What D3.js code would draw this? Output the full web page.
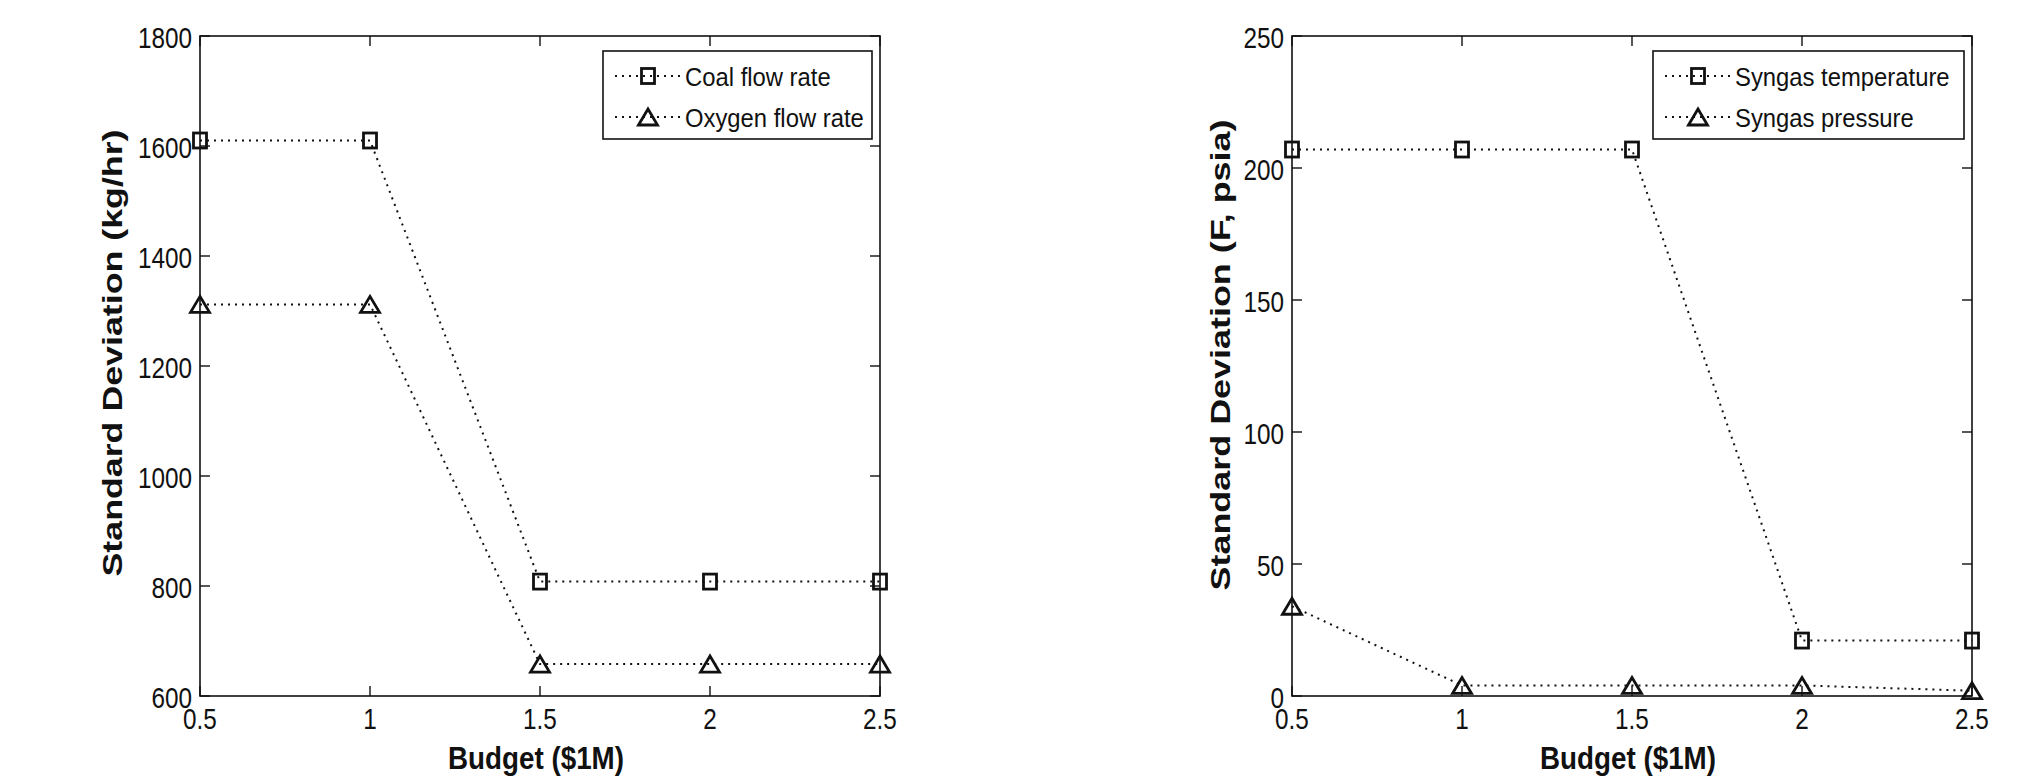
<!DOCTYPE html>
<meta charset="utf-8">
<script src="https://d3js.org/d3.v7.min.js"></script>
<style>
    body { margin: 0; background: #fff; }
    svg text { font-family: "Liberation Sans", Arial, sans-serif; fill: #111; }
</style>
<div id="chart"></div>
<script>
    // data
    var budget = [0.5, 1, 1.5, 2, 2.5];
    var coalFlow = [1610, 1610, 808, 808, 808];
    var oxygenFlow = [1312, 1312, 658, 658, 658];
    var syngasTemp = [207, 207, 207, 21, 21];
    var syngasPressure = [34, 4, 4, 4, 2];
    var xTicks = [0.5, 1, 1.5, 2, 2.5];
    var leftYTicks = [600, 800, 1000, 1200, 1400, 1600, 1800];
    var rightYTicks = [0, 50, 100, 150, 200, 250];

    var svg = d3.select("#chart").append("svg")
        .attr("width", 2033)
        .attr("height", 783);

    // the original figure is squeezed sideways, so horizontal text is narrowed
    function addText(g, x, y, str, size, anchor, sx) {
        return g.append("text")
            .attr("transform", "translate(" + x + "," + y + ") scale(" + sx + ",1)")
            .attr("text-anchor", anchor)
            .attr("font-size", size)
            .text(str);
    }

    function drawMarker(g, type, cx, cy) {
        if (type === "square") {
            var w = 13, h = 15;
            g.append("rect").attr("x", cx - w / 2).attr("y", cy - h / 2)
                .attr("width", w).attr("height", h)
                .attr("fill", "none").attr("stroke", "#111").attr("stroke-width", 2.8);
        } else {
            var tw = 19, th = 16;
            g.append("path")
                .attr("d", "M" + (cx - tw / 2) + "," + (cy + th / 2) + "L" + cx + "," + (cy - th / 2) + "L" + (cx + tw / 2) + "," + (cy + th / 2) + "Z")
                .attr("fill", "none").attr("stroke", "#111").attr("stroke-width", 2.8);
        }
    }

    function drawPanel(opt) {
        var x = d3.scaleLinear().domain([0.5, 2.5]).range([opt.left, opt.left + 680]);
        var y = d3.scaleLinear().domain(opt.yDomain).range([696, 36]);
        var g = svg.append("g");

        // box
        g.append("rect")
            .attr("x", x(0.5)).attr("y", y(opt.yDomain[1]))
            .attr("width", x(2.5) - x(0.5)).attr("height", y(opt.yDomain[0]) - y(opt.yDomain[1]))
            .attr("fill", "none").attr("stroke", "#111").attr("stroke-width", 1.6);

        // inward ticks on all four sides
        var tl = 10;
        xTicks.forEach(function (t) {
            g.append("line").attr("x1", x(t)).attr("x2", x(t)).attr("y1", y.range()[0]).attr("y2", y.range()[0] - tl)
                .attr("stroke", "#111").attr("stroke-width", 1.4);
            g.append("line").attr("x1", x(t)).attr("x2", x(t)).attr("y1", y.range()[1]).attr("y2", y.range()[1] + tl)
                .attr("stroke", "#111").attr("stroke-width", 1.4);
            addText(g, x(t), 729, t, 30, "middle", 0.81);
        });
        opt.yTicks.forEach(function (t) {
            g.append("line").attr("x1", x.range()[0]).attr("x2", x.range()[0] + tl).attr("y1", y(t)).attr("y2", y(t))
                .attr("stroke", "#111").attr("stroke-width", 1.4);
            g.append("line").attr("x1", x.range()[1]).attr("x2", x.range()[1] - tl).attr("y1", y(t)).attr("y2", y(t))
                .attr("stroke", "#111").attr("stroke-width", 1.4);
            addText(g, x.range()[0] - 8, y(t) + 12, t, 30, "end", 0.81);
        });

        // axis titles
        g.append("text").attr("x", (x.range()[0] + x.range()[1]) / 2 - 4).attr("y", 769)
            .attr("text-anchor", "middle").attr("font-size", 32).attr("font-weight", "bold")
            .attr("textLength", 176).attr("lengthAdjust", "spacingAndGlyphs")
            .text("Budget ($1M)");
        g.append("text")
            .attr("transform", "translate(" + opt.yTitle.x + "," + opt.yTitle.cy + ") rotate(-90)")
            .attr("text-anchor", "middle").attr("font-size", 28).attr("font-weight", "bold")
            .attr("textLength", opt.yTitle.len).attr("lengthAdjust", "spacingAndGlyphs")
            .text(opt.yTitle.text);

        var line = d3.line().x(function (d) { return x(d[0]); }).y(function (d) { return y(d[1]); });

        opt.series.forEach(function (s) {
            var pts = budget.map(function (b, i) { return [b, s.values[i]]; });
            g.append("path").attr("d", line(pts))
                .attr("fill", "none").attr("stroke", "#111").attr("stroke-width", 2)
                .attr("stroke-dasharray", "2,5");
            pts.forEach(function (p) {
                drawMarker(g, s.marker, x(p[0]), y(p[1]));
            });
        });

        // legend
        var lg = g.append("g");
        lg.append("rect").attr("x", opt.legend.x).attr("y", 51)
            .attr("width", opt.legend.w).attr("height", 88)
            .attr("fill", "#fff").attr("stroke", "#111").attr("stroke-width", 1.6);
        opt.series.forEach(function (s, i) {
            var cy = 76 + i * 41;
            var lx = opt.legend.x + 12;
            lg.append("line").attr("x1", lx).attr("x2", lx + 66).attr("y1", cy).attr("y2", cy)
                .attr("stroke", "#111").attr("stroke-width", 2).attr("stroke-dasharray", "2,5");
            drawMarker(lg, s.marker, lx + 33, cy);
            addText(lg, lx + 70, cy + 10, s.name, 26.5, "start", 0.9);
        });
    }

    drawPanel({
        left: 200,
        yDomain: [600, 1800],
        yTicks: leftYTicks,
        yTitle: { text: "Standard Deviation (kg/hr)", x: 122, cy: 353, len: 447 },
        legend: { x: 603, w: 269 },
        series: [
            { name: "Coal flow rate", values: coalFlow, marker: "square" },
            { name: "Oxygen flow rate", values: oxygenFlow, marker: "triangle" }
        ]
    });

    drawPanel({
        left: 1292,
        yDomain: [0, 250],
        yTicks: rightYTicks,
        yTitle: { text: "Standard Deviation (F, psia)", x: 1230, cy: 355, len: 471 },
        legend: { x: 1653, w: 311 },
        series: [
            { name: "Syngas temperature", values: syngasTemp, marker: "square" },
            { name: "Syngas pressure", values: syngasPressure, marker: "triangle" }
        ]
    });
</script>
